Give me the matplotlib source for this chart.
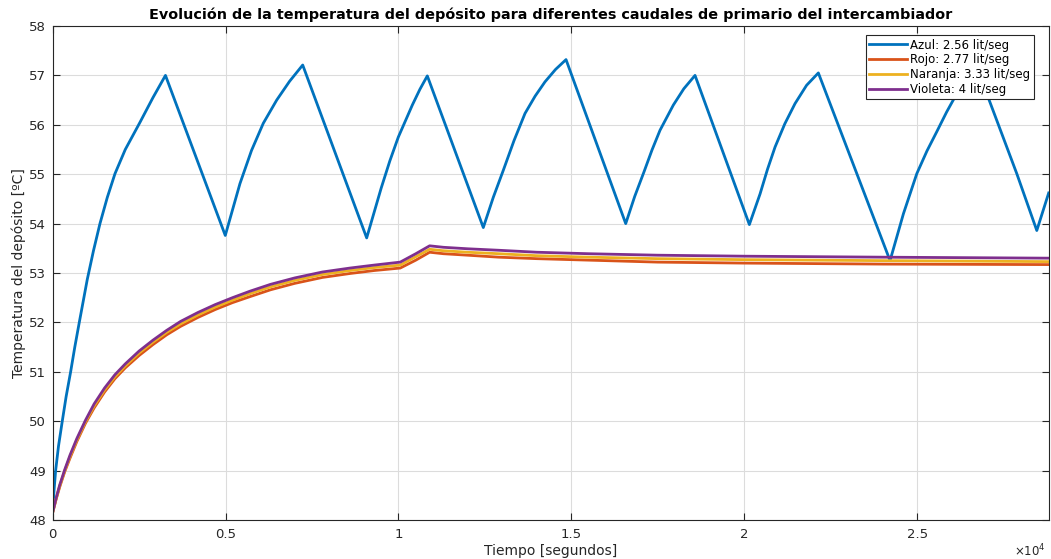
import matplotlib
matplotlib.use("Agg")
import matplotlib.pyplot as plt
from matplotlib.ticker import FixedLocator, FixedFormatter

# ---------------- data ----------------
t_blue = [0, 40, 86, 170, 278, 390, 520, 640, 770, 1001, 1180, 1368, 1580, 1802,
          2100, 2525, 2900, 3262,
          4991, 5416, 5750, 6090, 6478, 6850, 7230,
          9080, 9500, 9750, 9994, 10400, 10620, 10833,
          12452, 12740, 13031, 13340, 13658, 13950, 14236, 14540, 14844,
          16570, 16830, 17100, 17330, 17562, 17947, 18250, 18574,
          20145, 20454, 20670, 20888, 21170, 21466, 21800, 22140,
          24213, 24600, 24986, 25280, 25564, 25850, 26142, 26440, 26730,
          27878, 28456, 28800]
temp_blue = [48.15, 48.6, 49.0, 49.5, 50.0, 50.5, 51.0, 51.5, 52.0, 52.87, 53.45, 54.0, 54.53, 55.01,
             55.5, 56.05, 56.55, 57.0,
             53.76, 54.81, 55.48, 56.03, 56.5, 56.88, 57.21,
             53.71, 54.72, 55.27, 55.75, 56.4, 56.72, 56.99,
             53.92, 54.53, 55.08, 55.68, 56.23, 56.58, 56.87, 57.12, 57.32,
             54.0, 54.55, 55.05, 55.49, 55.89, 56.40, 56.73, 57.0,
             53.98, 54.6, 55.1, 55.55, 56.02, 56.43, 56.8, 57.05,
             53.25, 54.2, 55.01, 55.47, 55.86, 56.26, 56.63, 56.93, 57.15,
             55.01, 53.86, 54.62]

t_lines = [0, 100, 200, 350, 500, 700, 950, 1200, 1500, 1800, 2100, 2500, 2900,
           3300, 3700, 4200, 4700, 5200, 5700, 6300, 7000, 7800, 8600, 9300,
           10050, 10500, 10900, 11300, 12000, 12900, 14000, 15500, 17500,
           20000, 24000, 28800]
temp_violeta = [48.15, 48.44, 48.7, 49.02, 49.31, 49.65, 50.02, 50.35, 50.67,
                50.94, 51.16, 51.42, 51.64, 51.84, 52.02, 52.2, 52.36, 52.5,
                52.63, 52.77, 52.9, 53.02, 53.1, 53.16, 53.22, 53.39, 53.55,
                53.52, 53.49, 53.46, 53.42, 53.39, 53.36, 53.34, 53.32, 53.30]
temp_naranja = [48.15, 48.43, 48.68, 49.0, 49.28, 49.62, 49.99, 50.31, 50.63,
                50.9, 51.12, 51.38, 51.6, 51.8, 51.97, 52.15, 52.31, 52.45,
                52.58, 52.72, 52.85, 52.97, 53.05, 53.11, 53.16, 53.33, 53.48,
                53.45, 53.42, 53.39, 53.35, 53.32, 53.29, 53.27, 53.25, 53.23]
temp_rojo = [48.15, 48.42, 48.66, 48.98, 49.25, 49.59, 49.96, 50.27, 50.59,
             50.86, 51.08, 51.33, 51.55, 51.75, 51.92, 52.1, 52.26, 52.4,
             52.52, 52.66, 52.79, 52.91, 52.99, 53.05, 53.10, 53.26, 53.42,
             53.39, 53.36, 53.32, 53.29, 53.26, 53.22, 53.20, 53.18, 53.17]

labels = ["Azul: 2.56 lit/seg", "Rojo: 2.77 lit/seg",
          "Naranja: 3.33 lit/seg", "Violeta: 4 lit/seg"]
colors = ["#0072BD", "#D95319", "#EDB120", "#7E2F8E"]

xticks = [0, 5000, 10000, 15000, 20000, 25000]
xtick_labels = ["0", "0.5", "1", "1.5", "2", "2.5"]
yticks = [48, 49, 50, 51, 52, 53, 54, 55, 56, 57, 58]

title = "Evolución de la temperatura del depósito para diferentes caudales de primario del intercambiador"
xlabel = "Tiempo [segundos]"
ylabel = "Temperatura del depósito [ºC]"

# ---------------- plot ----------------
plt.rcParams['font.family'] = ['DejaVu Sans']
fig = plt.figure(figsize=(10.51, 5.59), dpi=100)
ax = fig.add_axes([0.0501, 0.0698, 0.9477, 0.8837])

axc = "#262626"
ax.plot(t_blue, temp_blue, color=colors[0], lw=2.0, label=labels[0])
ax.plot(t_lines, temp_rojo, color=colors[1], lw=2.0, label=labels[1])
ax.plot(t_lines, temp_naranja, color=colors[2], lw=2.0, label=labels[2])
ax.plot(t_lines, temp_violeta, color=colors[3], lw=2.0, label=labels[3])

ax.set_xlim(0, 28800)
ax.set_ylim(48, 58)
ax.xaxis.set_major_locator(FixedLocator(xticks))
ax.xaxis.set_major_formatter(FixedFormatter(xtick_labels))
ax.set_yticks(yticks)

ax.grid(True, color="#dcdcdc", lw=0.8)
ax.set_axisbelow(True)
for s in ax.spines.values():
    s.set_color(axc)
    s.set_linewidth(0.8)
ax.tick_params(direction='in', length=5, width=0.8, colors=axc,
               labelsize=9.5, top=True, right=True)
ax.tick_params(axis='x', pad=6)
ax.tick_params(axis='y', pad=5)

ax.set_title(title, fontsize=10.4, fontweight='bold', color='black', pad=5)
ax.set_xlabel(xlabel, fontsize=10, color=axc, labelpad=2)
ax.set_ylabel(ylabel, fontsize=10, color=axc, labelpad=2)
ax.text(0.997, (520 - 556) / 494, r"$\times10^{4}$", transform=ax.transAxes,
        ha='right', va='baseline', fontsize=8.5, color=axc)

leg = ax.legend(loc='upper right', bbox_to_anchor=(0.9853, 0.9818),
                borderaxespad=0, fontsize=8.5, fancybox=False, framealpha=1,
                edgecolor=axc, handlelength=3.2, handletextpad=0.3,
                labelspacing=0.15, borderpad=0.3)
leg.get_frame().set_linewidth(0.8)

fig.savefig("out.png", dpi=100)
